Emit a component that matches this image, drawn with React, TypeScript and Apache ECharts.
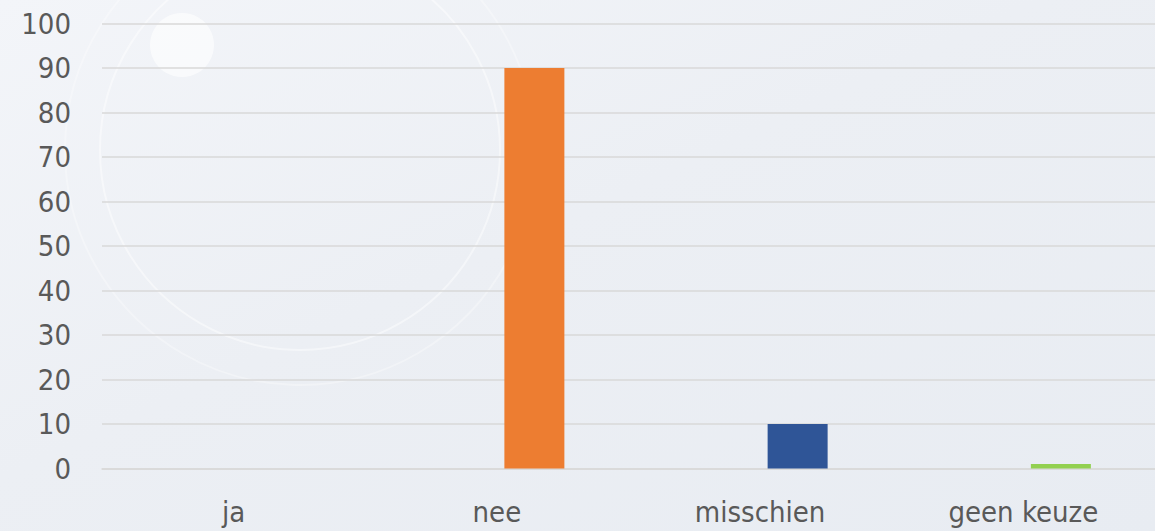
import React, { useEffect, useRef } from "react";
import * as echarts from "echarts";

const categories = ["ja", "nee", "misschien", "geen keuze"];
const values = [0, 90, 10, 1];
const barColors = ["#4472C4", "#ED7D31", "#2F5597", "#92D050"];
const yTicks = { min: 0, max: 100, interval: 10 };

export default function App() {
  const ref = useRef<HTMLDivElement>(null);
  useEffect(() => {
    if (!ref.current) return;
    const chart = echarts.init(ref.current, null, { renderer: "svg" });
    const font = "'DejaVu Sans Condensed', 'DejaVu Sans', Verdana, Tahoma, sans-serif";
    chart.setOption({
      animation: false,
      backgroundColor: {
        type: "linear",
        x: 0,
        y: 0,
        x2: 1,
        y2: 1,
        colorStops: [
          { offset: 0, color: "#F3F5F9" },
          { offset: 0.45, color: "#ECEFF4" },
          { offset: 1, color: "#E8ECF2" },
        ],
      },
      graphic: [
        { type: "circle", shape: { cx: 300, cy: 150, r: 200 }, style: { fill: "rgba(255,255,255,0)", stroke: "rgba(255,255,255,0.45)", lineWidth: 2 }, silent: true, z: -10 },
        { type: "circle", shape: { cx: 300, cy: 150, r: 235 }, style: { fill: "rgba(255,255,255,0)", stroke: "rgba(255,255,255,0.3)", lineWidth: 2 }, silent: true, z: -10 },
        { type: "circle", shape: { cx: 182, cy: 45, r: 32 }, style: { fill: "rgba(255,255,255,0.6)" }, silent: true, z: -10 },
      ],
      grid: { left: 102, right: -1, top: 23.5, bottom: 62.5, containLabel: false },
      xAxis: {
        type: "category",
        data: categories,
        axisLine: { show: true, lineStyle: { color: "#D9D9D9", width: 1.5 } },
        axisTick: { show: false },
        axisLabel: { color: "#595959", fontSize: 29, fontFamily: font, margin: 29 },
      },
      yAxis: {
        type: "value",
        min: yTicks.min,
        max: yTicks.max,
        interval: yTicks.interval,
        axisLine: { show: false },
        axisTick: { show: false },
        axisLabel: { color: "#595959", fontSize: 29, fontFamily: font, margin: 31 },
        splitLine: { lineStyle: { color: "#D9D9D9", width: 1.5 } },
      },
      series: [
        {
          name: "spacer",
          type: "bar",
          data: categories.map(() => null),
          barWidth: 60,
          barGap: "25%",
          silent: true,
        },
        {
          name: "antwoord",
          type: "bar",
          barWidth: 60,
          barGap: "25%",
          data: values.map((v, i) => ({ value: v, itemStyle: { color: barColors[i] } })),
        },
      ],
    });
    return () => chart.dispose();
  }, []);
  return <div ref={ref} style={{ position: "fixed", left: 0, top: 0, width: 1155, height: 531 }} />;
}
